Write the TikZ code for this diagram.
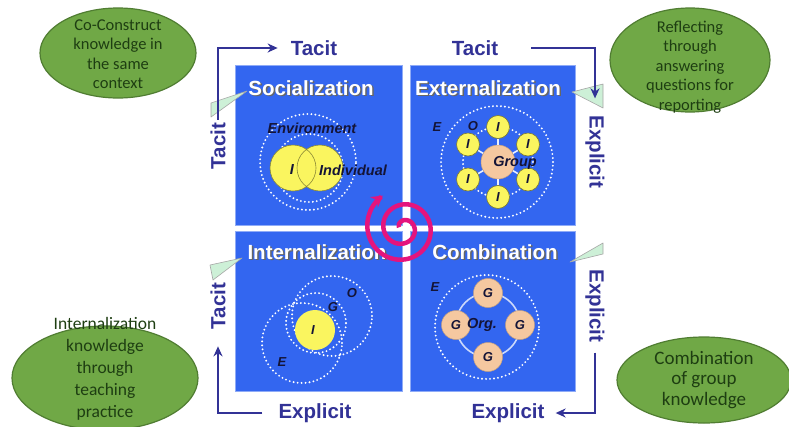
\documentclass[tikz,border=0pt]{standalone}
\usepackage{fontspec}
\setmainfont{Liberation Sans}
\newfontfamily\callfont{Carlito}
\usetikzlibrary{shapes.geometric,arrows.meta}

\definecolor{quadblue}{RGB}{51,102,240}
\definecolor{navyline}{RGB}{50,50,150}
\definecolor{inkdark}{RGB}{20,20,55}
\definecolor{ballyellow}{RGB}{250,245,95}
\definecolor{peach}{RGB}{245,200,160}
\definecolor{spiralpink}{RGB}{228,20,125}
\definecolor{leafgreen}{RGB}{112,168,70}
\definecolor{leafedge}{RGB}{80,125,50}
\definecolor{leafink}{RGB}{30,62,18}
\definecolor{mint}{RGB}{205,240,215}

\begin{document}
\begin{tikzpicture}[x=1pt,y=-1pt,
  quad/.style={fill=quadblue, draw=quadblue!55!white, line width=0.8pt,
    anchor=north west, inner sep=0pt},
  ttlfont/.style={font=\bfseries\fontsize{20.5}{24}\selectfont, inner sep=0pt},
  ttl/.style={ttlfont, text=white},
  ttlshadow/.style={ttlfont, text=black!60},
  axislbl/.style={font=\bfseries\fontsize{20.5}{24}\selectfont, text=navyline, inner sep=3pt},
  flow/.style={draw=navyline, line width=2.6pt, -{Stealth[length=10pt,width=9pt]}},
  dotring/.style={draw=white, line width=2.1pt, dash pattern=on 0pt off 4pt, line cap=round},
  lbl/.style={font=\bfseries\itshape\fontsize{14.5}{16}\selectfont, text=inkdark, inner sep=0pt},
  smlbl/.style={font=\bfseries\itshape\fontsize{13}{15}\selectfont, text=inkdark, inner sep=0pt},
  ball/.style={circle, fill=ballyellow, draw=black!50!ballyellow, line width=0.6pt, inner sep=0pt},
  gball/.style={circle, fill=peach, draw=peach!80!black, line width=0.5pt, inner sep=0pt},
  spoke/.style={draw=white!90!quadblue, line width=1.6pt},
  bubble/.style={ellipse, fill=leafgreen, draw=leafedge, line width=1.2pt, inner sep=0pt},
  bubbletext/.style={font=\callfont\fontsize{16.5}{19.5}\selectfont, text=leafink, align=center, inner sep=0pt},
  tail/.style={fill=mint, draw=black!35, line width=0.6pt, line join=round},
]
\useasboundingbox[fill=white] (0,0) rectangle (789,426);

% ---- four quadrants ----
\node[quad, minimum width=167pt, minimum height=160pt] (socQ) at (235,65) {};
\node[quad, minimum width=165pt, minimum height=160pt] (extQ) at (410,65) {};
\node[quad, minimum width=167pt, minimum height=160pt] (intQ) at (235,231) {};
\node[quad, minimum width=165pt, minimum height=160pt] (comQ) at (410,231) {};

% ---- quadrant titles (white with a soft drop shadow) ----
\node[ttlshadow] (socTs) at (312.5,89.5) {Socialization};
\node[ttl] (socT) at (311,88) {Socialization};
\node[ttlshadow] (extTs) at (489.5,89.5) {Externalization};
\node[ttl] (extT) at (488,88) {Externalization};
\node[ttlshadow] (intTs) at (318.5,253.5) {Internalization};
\node[ttl] (intT) at (317,252) {Internalization};
\node[ttlshadow] (comTs) at (496.5,253.5) {Combination};
\node[ttl] (comT) at (495,252) {Combination};

% ---- Socialization: individual within environment ----
\draw[dotring] (308,162) circle[radius=48pt];
\draw[dotring] (309,168) circle[radius=34pt];
\fill[ballyellow] (293,168) circle[radius=23pt] (320,168) circle[radius=23pt];
\draw[black!45!ballyellow, line width=0.6pt] (293,168) circle[radius=23pt] (320,168) circle[radius=23pt];
\node[lbl] (envS) at (312,128) {Environment};
\node[lbl] (iS) at (292,170) {I};
\node[lbl] (indS) at (353,170) {Individual};

% ---- Externalization: individuals around a group ----
\draw[dotring] (497,162) circle[radius=56pt];
\draw[dotring] (498,162) circle[radius=35pt];
\node[gball, minimum size=34pt] (grp) at (498,162) {};
\node[ball, minimum size=23pt] (x1) at (498,127) {};
\node[ball, minimum size=23pt] (x2) at (528,144.5) {};
\node[ball, minimum size=23pt] (x3) at (528,179.5) {};
\node[ball, minimum size=23pt] (x4) at (498,197) {};
\node[ball, minimum size=23pt] (x5) at (468,179.5) {};
\node[ball, minimum size=23pt] (x6) at (468,144.5) {};
\foreach \n in {x1,x2,x3,x4,x5,x6}{
  \draw[spoke] (grp) -- (\n);
  \node[smlbl] at (\n) {I};
}
\node[lbl] (grpL) at (515,163) {Group};
\node[smlbl] (eX) at (437,127) {E};
\node[smlbl] (oX) at (473,126) {O};

% ---- Internalization: nested spheres ----
\draw[dotring] (302,343) circle[radius=40pt];
\draw[dotring] (332,316) circle[radius=40pt];
\draw[dotring] (316,323) circle[radius=30pt];
\node[ball, minimum size=40pt, draw=none] (iBall) at (315,330) {};
\node[smlbl] (iI) at (313,330) {I};
\node[smlbl] (gI) at (333,307) {G};
\node[smlbl] (oI) at (352,293) {O};
\node[smlbl] (eI) at (282,362) {E};

% ---- Combination: groups in the organisation ----
\draw[dotring] (487,327) circle[radius=52pt];
\draw[draw=white!75!quadblue, line width=1.6pt] (488,325) circle[radius=32pt];
\node[gball, minimum size=29pt] (g1) at (488,293) {};
\node[gball, minimum size=29pt] (g2) at (520,325) {};
\node[gball, minimum size=29pt] (g3) at (488,357) {};
\node[gball, minimum size=29pt] (g4) at (456,325) {};
\foreach \n in {g1,g2,g3,g4}{ \node[smlbl] at (\n) {G}; }
\node[lbl] (orgL) at (482,325) {Org.};
\node[smlbl] (eC) at (435,287) {E};

% ---- callout tails ----
\draw[tail] (247,91) -- (211,103) -- (211,117) -- cycle;
\draw[tail] (572,92) -- (603,84) -- (603,108) -- cycle;
\draw[tail] (242,258) -- (210,265) -- (213,280) -- cycle;
\draw[tail] (570,262) -- (603,243) -- (603,254) -- cycle;

% ---- axis labels ----
\node[axislbl] (tacitT1) at (314,48) {Tacit};
\node[axislbl] (tacitT2) at (475,48) {Tacit};
\node[axislbl, rotate=90] (tacitL1) at (218,146) {Tacit};
\node[axislbl, rotate=90] (tacitL2) at (218,306) {Tacit};
\node[axislbl, rotate=-90] (explR1) at (595,152) {Explicit};
\node[axislbl, rotate=-90] (explR2) at (595,306) {Explicit};
\node[axislbl] (explB1) at (315,413) {Explicit};
\node[axislbl] (explB2) at (508,413) {Explicit};

% ---- knowledge conversion cycle ----
\draw[flow, shorten >=10pt] (tacitL1.east) |- (tacitT1.west);
\draw[flow, shorten <=30pt, shorten >=14pt] (tacitT2.east) -| (explR1.west);
\draw[flow, shorten <=7pt, shorten >=8pt] (explR2.east) |- (explB2.east);
\draw[flow, shorten <=13pt, shorten >=14pt] (explB1.west) -| (tacitL2.west);

% ---- central spiral ----
\begin{scope}[shift={(403,228)}]
  \draw[spiralpink, line width=4.5pt, -{Stealth[length=11pt,width=13pt]}]
    plot[domain=190:958, samples=220, smooth] (\x:{4+0.0445*(\x-190)});
\end{scope}

% ---- callout bubbles ----
\node[bubble, minimum width=156pt, minimum height=90pt] (cb1) at (118,53) {};
\node[bubbletext] (cb1t) at (118,54) {Co-Construct\\knowledge in\\the same\\context};
\node[bubble, minimum width=160pt, minimum height=104pt] (cb2) at (690,60) {};
\node[bubbletext] (cb2t) at (690,67) {Reflecting\\through\\answering\\questions for\\reporting};
\node[bubble, minimum width=186pt, minimum height=104pt] (cb3) at (105,378) {};
\node[bubbletext, font=\callfont\fontsize{17.5}{22}\selectfont] (cb3t) at (105,369) {Internalization\\knowledge\\through\\teaching\\practice};
\node[bubble, minimum width=174pt, minimum height=86pt] (cb4) at (704,380) {};
\node[bubbletext, font=\callfont\fontsize{19}{20.5}\selectfont] (cb4t) at (704,380) {Combination\\of group\\knowledge};
\end{tikzpicture}
\end{document}
